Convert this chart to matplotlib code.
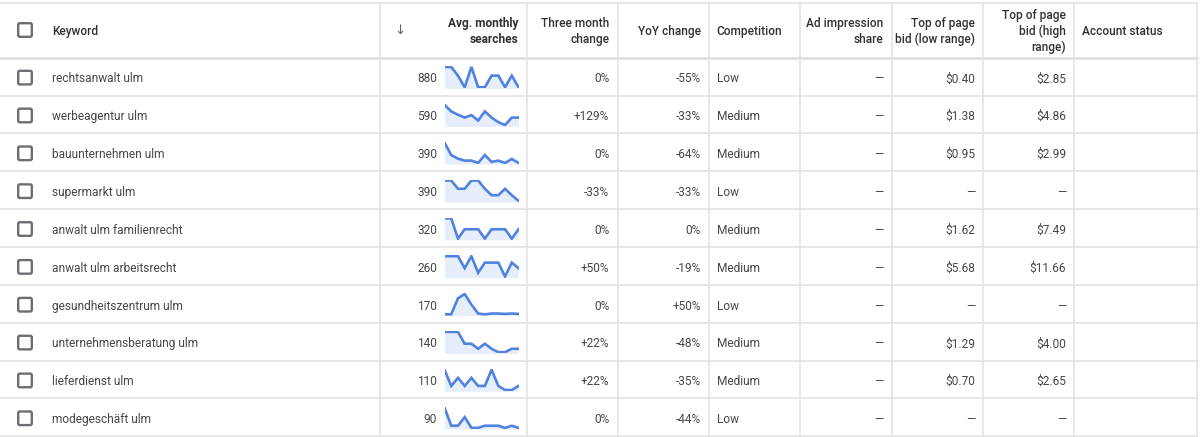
import matplotlib.pyplot as plt
from matplotlib.patches import FancyBboxPatch

plt.rcParams['font.family'] = ['Roboto', 'DejaVu Sans']

# table data
keywords = ['rechtsanwalt ulm', 'werbeagentur ulm', 'bauunternehmen ulm', 'supermarkt ulm',
            'anwalt ulm familienrecht', 'anwalt ulm arbeitsrecht', 'gesundheitszentrum ulm',
            'unternehmensberatung ulm', 'lieferdienst ulm', 'modegeschäft ulm']
avg_searches = ['880', '590', '390', '390', '320', '260', '170', '140', '110', '90']
three_month = ['0%', '+129%', '0%', '-33%', '0%', '+50%', '0%', '+22%', '+22%', '0%']
yoy_change = ['-55%', '-33%', '-64%', '-33%', '0%', '-19%', '+50%', '-48%', '-35%', '-44%']
competition = ['Low', 'Medium', 'Medium', 'Low', 'Medium', 'Medium', 'Low', 'Medium', 'Medium', 'Low']
ad_share = ['—'] * 10
bid_low = ['$0.40', '$1.38', '$0.95', '—', '$1.62', '$5.68', '—', '$1.29', '$0.70', '—']
bid_high = ['$2.85', '$4.86', '$2.99', '—', '$7.49', '$11.66', '—', '$4.00', '$2.65', '—']

# monthly search trends (estimated from the sparklines)
trend_rechtsanwalt = [1000, 1000, 880, 720, 1000, 720, 720, 880, 880, 720, 880, 720]
trend_werbeagentur = [880, 720, 640, 570, 630, 500, 720, 570, 460, 390, 570, 570]
trend_bauunternehmen = [880, 500, 390, 330, 330, 260, 500, 290, 330, 260, 380, 260]
trend_supermarkt = [480, 480, 390, 390, 480, 480, 390, 320, 320, 390, 320, 260]
trend_familienrecht = [390, 390, 260, 320, 320, 320, 260, 320, 320, 320, 260, 320]
trend_arbeitsrecht = [390, 390, 390, 260, 390, 210, 320, 320, 320, 170, 320, 260]
trend_gesundheit = [70, 70, 480, 590, 320, 90, 70, 90, 90, 80, 90, 80]
trend_beratung = [210, 210, 210, 140, 140, 110, 140, 110, 90, 90, 110, 110]
trend_lieferdienst = [170, 90, 130, 90, 130, 90, 90, 170, 90, 70, 70, 90]
trend_mode = [260, 90, 90, 170, 70, 70, 90, 90, 90, 70, 90, 70]
trends = [trend_rechtsanwalt, trend_werbeagentur, trend_bauunternehmen, trend_supermarkt,
          trend_familienrecht, trend_arbeitsrecht, trend_gesundheit, trend_beratung,
          trend_lieferdienst, trend_mode]

W, H = 1200, 437
fig = plt.figure(figsize=(12, 4.37), dpi=100)
ax = fig.add_axes([0, 0, 1, 1])
ax.set_xlim(0, W)
ax.set_ylim(H, 0)
ax.axis('off')

grid = '#e3e3e3'
head_col = '#303134'
body_col = '#44474b'
fs = 8.6

top, head_bot, row_h = 2.5, 57.7, 37.85
col_lines = [379.5, 526.7, 617.5, 708.7, 800, 891.7, 982.7, 1074, 1197.3]

# borders
ax.plot([0, 1197.3], [top, top], color=grid, lw=1.2)
ax.plot([0, 1197.3], [head_bot, head_bot], color='#dcdcdc', lw=1.8)
for i in range(1, len(keywords) + 1):
    y = head_bot + i * row_h
    ax.plot([0, 1197.3], [y, y], color=grid, lw=1.2)
for x in col_lines:
    ax.plot([x, x], [top, head_bot + len(keywords) * row_h], color=grid, lw=1.2)


def checkbox(y):
    ax.add_patch(FancyBboxPatch((18.2, y - 6.8), 13.6, 13.6,
                                boxstyle='round,pad=0,rounding_size=1.6',
                                fc='white', ec='#6b6e72', lw=1.7))


# header
hy = 30
checkbox(hy)
ty = hy + 1.5
hkw = dict(fontsize=fs, color=head_col, fontweight='medium', linespacing=1.22, va='center')
ax.text(51.7, ty, 'Keyword', ha='left', **hkw)
ax.text(400, hy, '↓', ha='center', va='center', fontsize=9.5, color='#5f6368', family=['DejaVu Sans'])
ax.text(518.5, ty, 'Avg. monthly\nsearches', ha='right', multialignment='right',
        **{**hkw, 'fontweight': 'bold'})
ax.text(609.3, ty, 'Three month\nchange', ha='right', multialignment='right', **hkw)
ax.text(700.7, ty, 'YoY change', ha='right', **hkw)
ax.text(716.7, ty, 'Competition', ha='left', **hkw)
ax.text(883.3, ty, 'Ad impression\nshare', ha='right', multialignment='right', **hkw)
ax.text(975, ty, 'Top of page\nbid (low range)', ha='right', multialignment='right', **hkw)
ax.text(1066, ty, 'Top of page\nbid (high\nrange)', ha='right', multialignment='right', **hkw)
ax.text(1082.3, ty, 'Account status', ha='left', **hkw)

# rows
for i, kw in enumerate(keywords):
    yc = head_bot + (i + 0.5) * row_h + 1
    checkbox(yc)
    ty = yc + 1.3
    bkw = dict(fontsize=fs, color=body_col, va='center')
    ax.text(51.7, ty, kw, ha='left', **bkw)
    ax.text(437, ty, avg_searches[i], ha='right', **bkw)
    ax.text(609.3, ty, three_month[i], ha='right', **bkw)
    ax.text(700.7, ty, yoy_change[i], ha='right', **bkw)
    ax.text(716.7, ty, competition[i], ha='left', **bkw)
    ax.text(883.3, ty, ad_share[i], ha='right', **bkw)
    ax.text(975, ty, bid_low[i], ha='right', **bkw)
    ax.text(1066, ty, bid_high[i], ha='right', **bkw)

    # sparkline
    sx0, sx1 = 444.5, 518.5
    sy0, sy1 = yc - 11.5, yc + 10.8
    sax = fig.add_axes([sx0 / W, 1 - sy1 / H, (sx1 - sx0) / W, (sy1 - sy0) / H])
    t = trends[i]
    lo, hi = min(t), max(t)
    r = hi - lo
    months = list(range(len(t)))
    sax.fill_between(months, t, lo - 0.06 * r, color='#e6eefc', lw=0)
    sax.plot(months, t, color='#5182e0', lw=1.9, solid_joinstyle='miter')
    sax.set_xlim(0, len(t) - 1)
    sax.set_ylim(lo - 0.06 * r, hi + 0.04 * r)
    sax.axis('off')

fig.savefig('out.png', dpi=100, facecolor='white')
